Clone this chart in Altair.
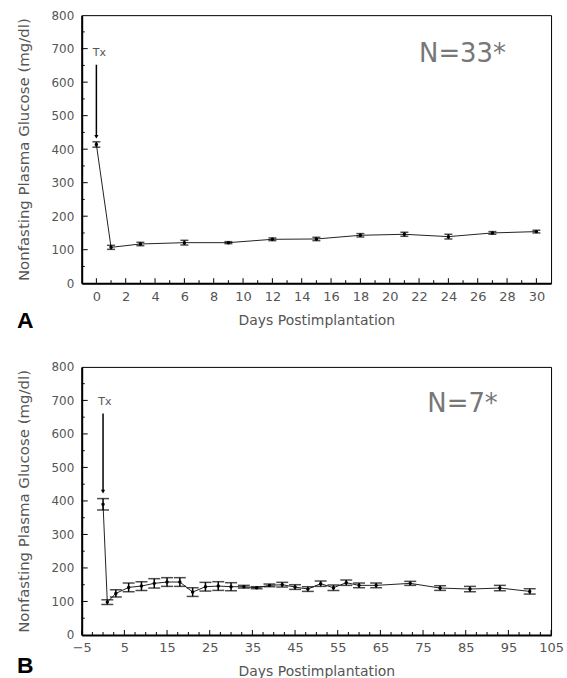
import altair as alt
import pandas as pd

# ---------------- data ----------------
# Panel A  (N=33)
days_a = [0, 1, 3, 6, 9, 12, 15, 18, 21, 24, 27, 30]
glu_a = [414, 107, 117, 121, 121, 131, 132, 143, 146, 139, 150, 154]
sem_a = [8, 6, 5, 7, 3, 4, 5, 5, 6, 7, 4, 4]

# Panel B  (N=7)
days_b = [0, 1, 3, 6, 9, 12, 15, 18, 21, 24, 27, 30, 33, 36, 39, 42, 45, 48,
          51, 54, 57, 60, 64, 72, 79, 86, 93, 100]
glu_b = [390, 98, 124, 142, 146, 154, 158, 158, 128, 144, 146, 144, 144, 141,
         148, 150, 143, 137, 153, 141, 156, 148, 148, 154, 140, 137, 140, 130]
sem_b = [17, 7, 11, 13, 13, 14, 13, 13, 13, 13, 13, 12, 4, 3, 4, 7, 7, 7,
         8, 8, 8, 7, 7, 6, 7, 8, 8, 8]

# axis tick values
xlab_a = list(range(0, 31, 2))
xminor_a = list(range(1, 31, 2))
xlab_b = list(range(-5, 106, 10))
xminor_b = [v / 2 for v in range(-5, 210, 5) if (v / 2) not in xlab_b and -5 < v / 2 < 105]
ylab = list(range(0, 801, 100))
ymajor_in = list(range(100, 800, 100))
yminor_in = list(range(50, 800, 100))

X_TITLE = "Days Postimplantation"
Y_TITLE = "Nonfasting Plasma Glucose (mg/dl)"

W, H = 471, 269
FONT = "DejaVu Sans"
GREY = "#555555"


def panel(days, glu, sem, xdom, xlabels, xminor, cap, letter, ntext, n_pos,
          tx_pos, arrow, letter_dy):
    df = pd.DataFrame({"day": days, "glu": glu,
                       "lo": [g - s for g, s in zip(glu, sem)],
                       "hi": [g + s for g, s in zip(glu, sem)]})
    xs = alt.Scale(domain=xdom, nice=False, zero=False)
    ys = alt.Scale(domain=[0, 800], nice=False, zero=True)

    xaxis = alt.Axis(values=xlabels, title=X_TITLE, ticks=False, tickSize=0,
                     grid=False, labelPadding=7, labelFontSize=13,
                     titlePadding=10, titleFontSize=14, labelFlush=False,
                     labelOverlap=False)
    yaxis = alt.Axis(values=ylab, title=Y_TITLE, ticks=False, tickSize=0,
                     grid=False, labelPadding=8, labelFontSize=12,
                     titlePadding=19, titleFontSize=15, labelFlush=False)

    def X(field="day"):
        return alt.X(f"{field}:Q", scale=xs, axis=xaxis, title=X_TITLE)

    def Y(field="glu"):
        return alt.Y(f"{field}:Q", scale=ys, axis=yaxis, title=Y_TITLE)

    base = alt.Chart(df)
    line = base.mark_line(color="#222222", strokeWidth=1).encode(
        x=X(), y=Y())
    bars = base.mark_rule(color="black", strokeWidth=1.5).encode(
        x=X(), y=Y("lo"), y2="hi:Q")
    cap_lo = base.mark_tick(color="black", thickness=1.5, size=cap,
                            orient="horizontal").encode(x=X(), y=Y("lo"))
    cap_hi = base.mark_tick(color="black", thickness=1.5, size=cap,
                            orient="horizontal").encode(x=X(), y=Y("hi"))
    pts = base.mark_point(filled=True, color="black", size=12, opacity=1).encode(
        x=X(), y=Y())

    # inward axis ticks
    xt_major = alt.Chart(pd.DataFrame({"day": xlabels})).mark_rule(
        color="black", strokeWidth=1).encode(
        x=X(), y=alt.value(H), y2=alt.value(H - 5))
    xt_minor = alt.Chart(pd.DataFrame({"day": xminor})).mark_rule(
        color="black", strokeWidth=1).encode(
        x=X(), y=alt.value(H), y2=alt.value(H - 3))
    yt_major = alt.Chart(pd.DataFrame({"glu": ymajor_in})).mark_rule(
        color="black", strokeWidth=1).encode(
        y=Y(), x=alt.value(0), x2=alt.value(6))
    yt_minor = alt.Chart(pd.DataFrame({"glu": yminor_in})).mark_rule(
        color="black", strokeWidth=1).encode(
        y=Y(), x=alt.value(0), x2=alt.value(3))

    # Tx annotation with arrow
    tx = alt.Chart(pd.DataFrame({"day": [tx_pos[0]], "glu": [tx_pos[1]],
                                 "t": ["Tx"]})).mark_text(
        align="left", baseline="middle", fontSize=11, font=FONT,
        color=GREY).encode(x=X(), y=Y(), text="t:N")
    arr = alt.Chart(pd.DataFrame({"day": [arrow[0]], "glu": [arrow[1]],
                                  "g2": [arrow[2]]}))
    arr_line = arr.mark_rule(color="black", strokeWidth=1.5).encode(
        x=X(), y=Y(), y2="g2:Q")
    arr_head = arr.mark_point(shape="triangle-down", filled=True,
                              color="black", size=18, opacity=1).encode(
        x=X(), y=Y("g2"))

    ntxt = alt.Chart(pd.DataFrame({"day": [n_pos[0]], "glu": [n_pos[1]],
                                   "t": [ntext]})).mark_text(
        align="left", baseline="alphabetic", fontSize=26, font=FONT,
        color="#777777").encode(x=X(), y=Y(), text="t:N")

    let = alt.Chart(pd.DataFrame({"t": [letter]})).mark_text(
        align="left", baseline="middle", fontSize=23, fontWeight="bold",
        font="Liberation Sans", color="black").encode(
        x=alt.value(-65), y=alt.value(H + letter_dy), text="t:N")

    return alt.layer(line, bars, cap_lo, cap_hi, pts, xt_major, xt_minor,
                     yt_major, yt_minor, arr_line, arr_head, tx, ntxt,
                     let).properties(width=W, height=H)


top = panel(days_a, glu_a, sem_a, [-1, 31], xlab_a, xminor_a, 8, "A",
            "N=33*", (22.0, 660), (-0.25, 687), (0, 652, 437), 38)
bot = panel(days_b, glu_b, sem_b, [-5, 105], xlab_b, xminor_b, 12, "B",
            "N=7*", (76.0, 664), (-1.1, 694), (0, 661, 428), 31)

chart = alt.vconcat(top, bot, spacing=26).properties(
    padding={"left": 16, "top": 7, "right": 3, "bottom": 0}
).configure_view(stroke="black", strokeWidth=1).configure_axis(
    domainColor="black", domainWidth=2, labelFont=FONT, titleFont=FONT,
    labelColor=GREY, titleColor=GREY, titleFontWeight="normal"
)

chart.save("out.html", embed_options={"renderer": "svg", "actions": False})
